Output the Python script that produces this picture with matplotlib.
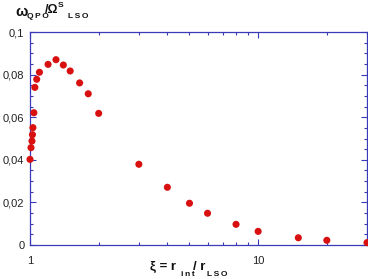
import matplotlib
matplotlib.use("Agg")
import matplotlib.pyplot as plt
from matplotlib.ticker import FixedLocator, MultipleLocator, FuncFormatter, NullFormatter

# xi = r_int / r_LSO  vs  omega_QPO / Omega^S_LSO
xi = [1.0, 1.01, 1.02, 1.025, 1.03, 1.04, 1.05, 1.07, 1.1, 1.2, 1.3, 1.4, 1.5,
      1.65, 1.8, 2.0, 3.0, 4.0, 5.0, 6.0, 8.0, 10.0, 15.0, 20.0, 30.0]
omega = [0.0402, 0.0457, 0.0488, 0.0518, 0.0551, 0.0621, 0.074, 0.0778, 0.0811,
         0.0848, 0.0870, 0.0845, 0.0817, 0.0761, 0.0710, 0.0618, 0.0379, 0.0271,
         0.0196, 0.0149, 0.0097, 0.0064, 0.0034, 0.0022, 0.0011]

blue = "#3a3ab8"
plt.rcParams['font.family'] = ['Liberation Sans', 'DejaVu Sans']

W, H = 368, 279
fig = plt.figure(figsize=(W / 100, H / 100), dpi=100)
ax = fig.add_axes([30/W, 34/H, 337/W, 213/H])

ax.scatter(xi, omega, s=26, color="#d81010", edgecolor="none", zorder=3, clip_on=False)

ax.set_xscale("log")
ax.set_xlim(1, 30)
ax.set_ylim(0, 0.1)

ax.xaxis.set_major_locator(FixedLocator([1, 10]))
ax.xaxis.set_minor_locator(FixedLocator([2, 3, 4, 5, 6, 7, 8, 9, 20, 30]))
ax.xaxis.set_major_formatter(FuncFormatter(lambda v, p: "%d" % v))
ax.xaxis.set_minor_formatter(NullFormatter())
ax.yaxis.set_major_locator(MultipleLocator(0.02))
ax.yaxis.set_minor_locator(MultipleLocator(0.005))
ax.yaxis.set_major_formatter(FuncFormatter(
    lambda v, p: "0" if abs(v) < 1e-9 else ("0,1" if abs(v - 0.1) < 1e-9 else ("%.2f" % v).replace(".", ","))))

for s in ax.spines.values():
    s.set_color(blue)
    s.set_linewidth(0.9)
ax.tick_params(which="both", direction="in", top=True, right=True, color=blue,
               labelsize=8, labelcolor="#222222", width=0.8)
ax.tick_params(which="major", length=4, pad=8)
ax.tick_params(which="minor", length=2.5)
ax.tick_params(axis="y", which="major", pad=4)


def put(x, y, s, size):
    # x, y in pixels from top-left of the figure
    fig.text(x / W, 1 - y / H, s, fontsize=size, fontweight="bold",
             ha="left", va="center", color="#111111")


sp = "\u2009"
# y-axis title
put(15, 11.5, "ω", 10.5)
put(27, 17, sp.join("QPO"), 6)
put(45, 10, "/Ω", 9)
put(58, 5.5, "S", 6)
put(68, 17, sp.join("LSO"), 6)

# x-axis title
put(150, 267, "ξ = r", 9.5)
put(181, 274, sp.join("int"), 6)
put(193, 267, "/ r", 9.5)
put(207, 274, sp.join("LSO"), 6)

fig.savefig("out.png", dpi=100)
